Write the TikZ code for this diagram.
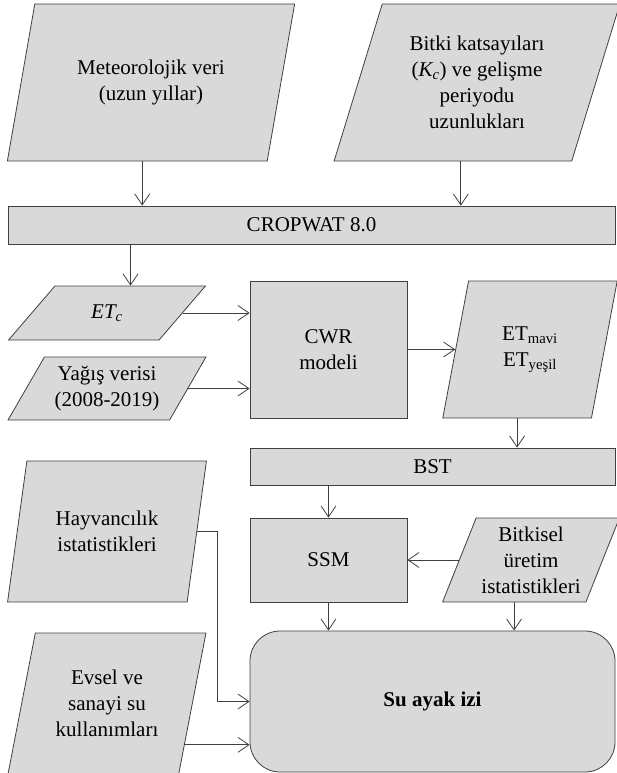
\documentclass[tikz,border=0pt]{standalone}
\usepackage{fontspec}
\setmainfont{Liberation Serif}
\usetikzlibrary{arrows.meta, positioning, shapes.geometric}

\definecolor{boxfill}{HTML}{D9D9D9}
\definecolor{boxline}{HTML}{404040}

\begin{document}
\begin{tikzpicture}[x=1pt, y=1pt, on grid,
    >={Straight Barb[length=11pt, width=15pt]},
    every node/.style={font=\fontsize{21}{26}\selectfont, align=center, text=black},
    box/.style={draw=boxline, fill=boxfill, line width=0.8pt, inner sep=2pt},
    data/.style={box, trapezium, trapezium left angle=#1, trapezium right angle={180-#1},
                 trapezium stretches=true},
    flow/.style={->, draw=boxline, line width=0.8pt}]
  \useasboundingbox (0,0) rectangle (617,-773);

  % inputs on top
  \node[data=70, minimum width=288, minimum height=157] (meteo) at (151,-82.5) {Meteorolojik veri\\(uzun yıllar)};
  \node[data=70, minimum width=286, minimum height=157] (bitki) [right=326pt of meteo]
    {Bitki katsayıları\\(\textit{K\textsubscript{c}}) ve gelişme\\periyodu\\uzunlukları};
  \node[box, minimum width=607, minimum height=38] (crop) at (311.5,-225) {CROPWAT 8.0};

  % left column
  \node[data=53, minimum width=198, minimum height=54] (etc) at (107,-313) {\textit{ET\textsubscript{c}}};
  \node[data=57, minimum width=198, minimum height=63] (yagis) [below=75.5pt of etc] {Yağış verisi\\(2008-2019)};
  \node[data=74, minimum width=199, minimum height=141] (hayv) [below=218.5pt of etc] {Hayvancılık\\istatistikleri};
  \node[data=74, minimum width=198, minimum height=141] (evsel) [below=172pt of hayv] {Evsel ve\\sanayi su\\kullanımları};

  % middle and right
  \node[box, minimum width=157, minimum height=137] (cwr) at (328.5,-349.5) {CWR\\modeli};
  \node[data=76, minimum width=175, minimum height=137] (et) [right=201.5pt of cwr]
    {ET\textsubscript{mavi}\\ET\textsubscript{yeşil}};
  \node[box, minimum width=365, minimum height=37] (bst) at (432.5,-466.5) {BST};
  \node[box, minimum width=157, minimum height=84] (ssm) [below=210.5pt of cwr] {SSM};
  \node[data=66, minimum width=177, minimum height=84] (bitkisel) [right=202.5pt of ssm]
    {Bitkisel\\üretim\\istatistikleri};
  \node[box, rounded corners=30pt, minimum width=365, minimum height=141] (su) [below=235pt of bst]
    {\textbf{Su ayak izi}};
  \coordinate (kink) at ([xshift=-32pt]su.west);

  % connectors
  \draw[flow] ([xshift=5pt]meteo.bottom side) -- ([xshift=5pt]meteo.bottom side |- crop.north);
  \draw[flow] ([xshift=8pt]bitki.bottom side) -- ([xshift=8pt]bitki.bottom side |- crop.north);
  \draw[flow] (etc.top side |- crop.south) -- (etc.top side);
  \draw[flow] (etc.right side) -- (etc.right side -| cwr.west);
  \draw[flow] (yagis.right side) -- (yagis.right side -| cwr.west);
  \draw[flow] (cwr.east) -- (et.left side);
  \draw[flow] (et.bottom side) -- (et.bottom side |- bst.north);
  \draw[flow] (ssm.north |- bst.south) -- (ssm.north);
  \draw[flow] (bitkisel.left side) -- (ssm.east);
  \draw[flow] (ssm.south) -- (ssm.south |- su.north);
  \draw[flow] (bitkisel.bottom side) -- (bitkisel.bottom side |- su.north);
  \draw[flow] (hayv.right side) -| (kink) -- (su.west);
  \draw[flow] (evsel.-28) -- (evsel.-28 -| su.west);
\end{tikzpicture}
\end{document}
